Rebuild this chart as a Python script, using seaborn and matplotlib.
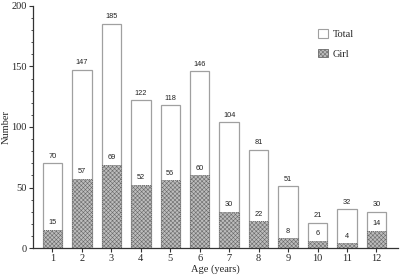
import matplotlib
matplotlib.use("Agg")
import matplotlib.pyplot as plt
import seaborn as sns
import pandas as pd
from matplotlib.ticker import MultipleLocator
from matplotlib.patches import Patch

ages = ["1", "2", "3", "4", "5", "6", "7", "8", "9", "10", "11", "12"]
total = [70, 147, 185, 122, 118, 146, 104, 81, 51, 21, 32, 30]
girl = [15, 57, 69, 52, 56, 60, 30, 22, 8, 6, 4, 14]

df = pd.DataFrame({"Age": ages, "Total": total, "Girl": girl})

sns.set_style("ticks")
plt.rcParams["font.family"] = ["Liberation Serif", "DejaVu Serif"]
plt.rcParams["hatch.linewidth"] = 0.4
plt.rcParams["hatch.color"] = "#8c8c8c"

fig = plt.figure(figsize=(4, 2.8), dpi=100)
ax = fig.add_axes([0.0825, 0.114, 0.9125, 0.865])

W = 0.66
sns.barplot(data=df, x="Age", y="Total", order=ages, color="white",
            edgecolor="#a0a0a0", linewidth=0.9, width=W, ax=ax, saturation=1)
n_total = len(ax.patches)
sns.barplot(data=df, x="Age", y="Girl", order=ages, color="#bdbdbd",
            edgecolor="#6a6a6a", linewidth=0.7, width=W, ax=ax, saturation=1)
for p in ax.patches[n_total:]:
    p.set_hatch("xxxxxxxx")
    p.set_linestyle((0, (1, 1)))

sans = ["Liberation Sans", "DejaVu Sans"]
for i, (t, g) in enumerate(zip(total, girl)):
    ax.text(i, t + 3, str(t), ha="center", va="bottom", fontsize=5.3,
            family=sans, color="#222222")
    ax.text(i, g + 3, str(g), ha="center", va="bottom", fontsize=5.3,
            family=sans, color="#222222")

ax.set_xlim(-0.66, 11.73)
ax.set_ylim(0, 200)
ax.yaxis.set_major_locator(MultipleLocator(50))
ax.yaxis.set_minor_locator(MultipleLocator(10))
ax.tick_params(axis="both", which="major", labelsize=7.5, length=3,
               width=0.8, color="#333333", pad=1.5)
ax.tick_params(axis="y", which="minor", length=1.5, width=0.6, color="#333333")
ax.set_xlabel("Age (years)", fontsize=7.5, labelpad=1)
ax.set_ylabel("Number", fontsize=7.5, labelpad=0)
for s in ["top", "right"]:
    ax.spines[s].set_visible(False)
for s in ["left", "bottom"]:
    ax.spines[s].set_linewidth(0.9)
    ax.spines[s].set_color("#333333")

handles = [
    Patch(facecolor="white", edgecolor="#a0a0a0", linewidth=0.8, label="Total"),
    Patch(facecolor="#bdbdbd", edgecolor="#6a6a6a", linewidth=0.6,
          hatch="xxxxxxxx", label="Girl"),
]
ax.legend(handles=handles, loc="upper left", bbox_to_anchor=(0.77, 0.92),
          frameon=False, fontsize=7.5, handlelength=0.9, handleheight=0.9,
          handletextpad=0.5, labelspacing=0.9, borderaxespad=0)

fig.savefig("out.png", dpi=100)
